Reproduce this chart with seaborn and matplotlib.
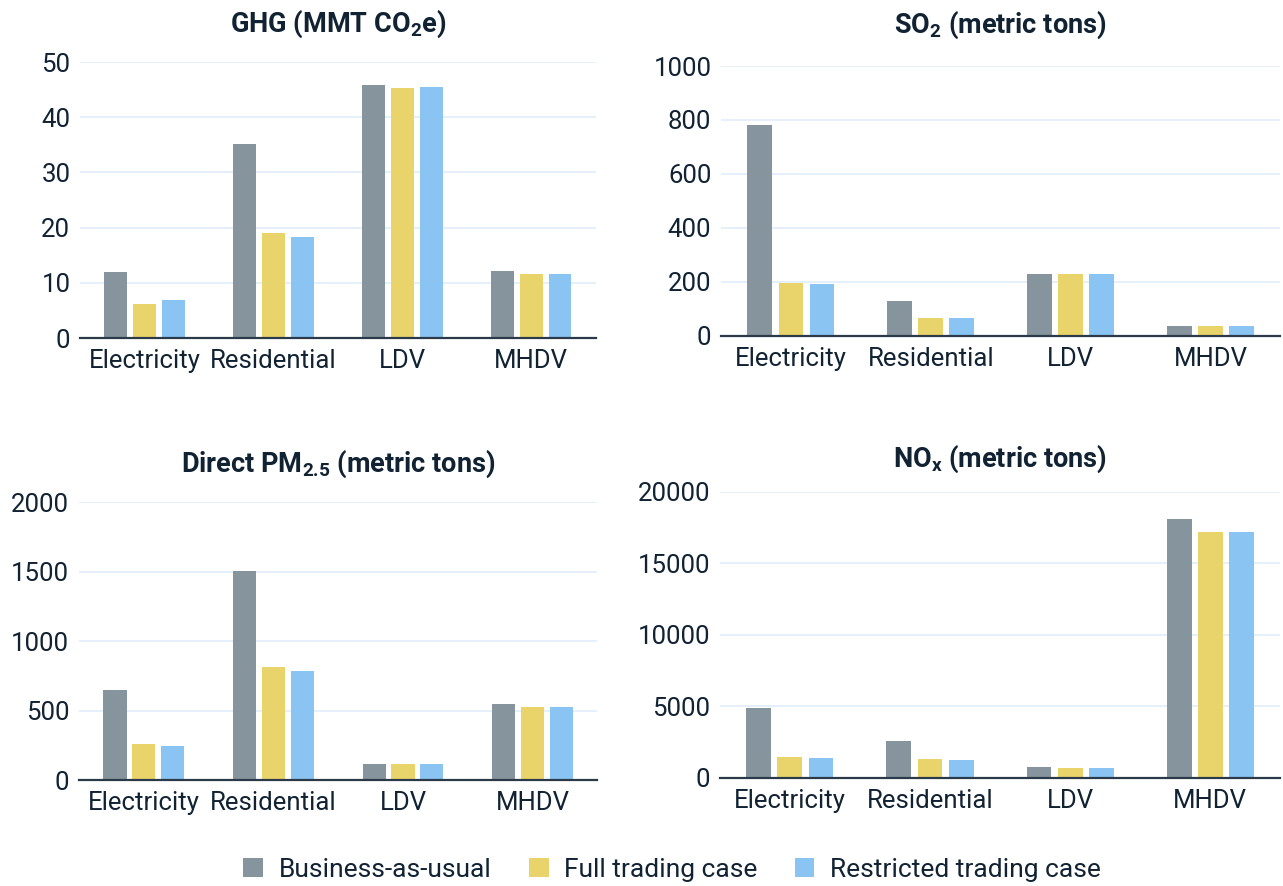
import matplotlib
matplotlib.use("Agg")
import matplotlib.pyplot as plt
import seaborn as sns
import pandas as pd

# Data
sectors = ["Electricity", "Residential", "LDV", "MHDV"]
cases = ["Business-as-usual", "Full trading case", "Restricted trading case"]

ghg_bau = [12.0, 35.2, 45.8, 12.2]
ghg_full = [6.2, 19.0, 45.3, 11.6]
ghg_restricted = [6.8, 18.3, 45.4, 11.6]

so2_bau = [780, 129, 230, 38]
so2_full = [197, 68, 228, 36]
so2_restricted = [194, 66, 228, 36]

pm25_bau = [647, 1506, 113, 547]
pm25_full = [259, 813, 113, 528]
pm25_restricted = [247, 782, 113, 528]

nox_bau = [4870, 2610, 770, 18110]
nox_full = [1450, 1350, 720, 17180]
nox_restricted = [1400, 1280, 720, 17230]

titles = [
    r"GHG (MMT CO$_\mathbf{2}$e)",
    r"SO$_\mathbf{2}$ (metric tons)",
    r"Direct PM$_\mathbf{2.5}$ (metric tons)",
    r"NO$_\mathbf{x}$ (metric tons)",
]
y_ticks = [
    [0, 10, 20, 30, 40, 50],
    [0, 200, 400, 600, 800, 1000],
    [0, 500, 1000, 1500, 2000],
    [0, 5000, 10000, 15000, 20000],
]
panels = [
    (ghg_bau, ghg_full, ghg_restricted),
    (so2_bau, so2_full, so2_restricted),
    (pm25_bau, pm25_full, pm25_restricted),
    (nox_bau, nox_full, nox_restricted),
]

colors = ["#85949d", "#e9d46b", "#8ac4f3"]
ink = "#112233"

sns.set_theme(style="white")
plt.rcParams["font.family"] = ["Roboto", "DejaVu Sans"]
plt.rcParams["mathtext.fontset"] = "custom"
plt.rcParams["mathtext.rm"] = "Roboto"
plt.rcParams["mathtext.bf"] = "Roboto:bold"

fig = plt.figure(figsize=(12.83, 8.86), dpi=100)

# axes rectangles [left, bottom, width, height] in figure fraction
rects = [
    [0.0624, 0.6185, 0.402, 0.3115],
    [0.562, 0.6208, 0.436, 0.3047],
    [0.0616, 0.1196, 0.404, 0.3138],
    [0.561, 0.1219, 0.437, 0.3228],
]
title_pads = [22, 24, 22, 18]

for i, (rect, series, title, ticks) in enumerate(zip(rects, panels, titles, y_ticks)):
    ax = fig.add_axes(rect)
    rows = []
    for case, vals in zip(cases, series):
        for s, v in zip(sectors, vals):
            rows.append({"Sector": s, "Case": case, "Value": v})
    df = pd.DataFrame(rows)
    sns.barplot(data=df, x="Sector", y="Value", hue="Case", order=sectors,
                hue_order=cases, palette=colors, width=0.667, gap=0.2,
                ax=ax, legend=(i == 0), edgecolor="none", saturation=1)
    ax.set_xlim(-0.5, 3.5)
    ax.set_ylim(0, ticks[-1])
    ax.set_yticks(ticks)
    ax.set_xlabel("")
    ax.set_ylabel("")
    ax.grid(axis="y", color="#e4effa", linewidth=1.3)
    ax.set_axisbelow(True)
    for side in ["left", "right", "top"]:
        ax.spines[side].set_visible(False)
    ax.spines["bottom"].set_color("#2b3a48")
    ax.spines["bottom"].set_linewidth(1.6)
    ax.spines["bottom"].set_zorder(5)
    ax.tick_params(axis="both", length=0, labelsize=18.5, labelcolor=ink)
    ax.tick_params(axis="x", pad=8)
    ax.tick_params(axis="y", pad=7)
    ax.set_title(title, fontsize=19.5, fontweight="bold", color=ink, pad=title_pads[i])
    if i == 0:
        handles, labels = ax.get_legend_handles_labels()
        ax.get_legend().remove()

fig.legend(handles, labels, loc="lower center", bbox_to_anchor=(0.524, -0.022),
           ncol=3, frameon=False, fontsize=19, handlelength=0.75, handleheight=0.75,
           columnspacing=1.4, handletextpad=0.6, labelcolor=ink)

fig.savefig("out.png", dpi=100)
